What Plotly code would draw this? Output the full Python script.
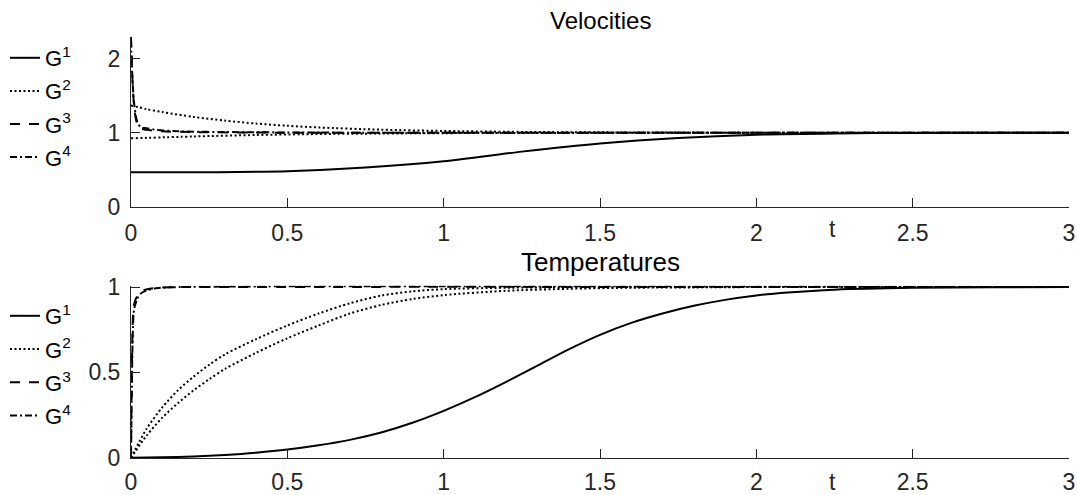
import plotly.graph_objects as go

# ---- Velocities ----
t_v1 = [0, 0.25, 0.5, 0.75, 1.0, 1.25, 1.5, 1.75, 2.0, 2.25, 2.5, 2.75, 3.0]
v_g1 = [0.465, 0.467, 0.48, 0.53, 0.615, 0.745, 0.855, 0.93, 0.975, 0.992, 0.998, 1.0, 1.0]

t_v2a = [0, 0.05, 0.1, 0.2, 0.3, 0.4, 0.5, 0.6, 0.8, 1.0, 1.25, 1.5, 2.0, 3.0]
v_g2a = [1.37, 1.32, 1.28, 1.215, 1.165, 1.125, 1.095, 1.072, 1.042, 1.025, 1.012, 1.006, 1.001, 1.0]
t_v2b = [0, 0.2, 0.4, 0.6, 0.8, 1.0, 1.5, 2.0, 3.0]
v_g2b = [0.925, 0.95, 0.97, 0.983, 0.99, 0.995, 0.999, 1.0, 1.0]

t_v3 = [0, 0.003, 0.006, 0.01, 0.015, 0.02, 0.03, 0.05, 0.1, 0.2, 0.4, 1.0, 3.0]
v_g3 = [2.3, 1.9, 1.6, 1.35, 1.2, 1.12, 1.06, 1.04, 1.02, 1.01, 1.003, 1.0, 1.0]
t_v4 = [0, 0.005, 0.01, 0.02, 0.03, 0.05, 0.08, 0.15, 0.3, 0.6, 1.0, 3.0]
v_g4 = [2.25, 1.7, 1.4, 1.15, 1.08, 1.06, 1.04, 1.02, 1.01, 1.003, 1.0, 1.0]

# ---- Temperatures ----
t_T1 = [0, 0.1, 0.2, 0.3, 0.4, 0.5, 0.6, 0.7, 0.8, 0.9, 1.0, 1.1, 1.2, 1.3, 1.4,
        1.5, 1.6, 1.7, 1.8, 1.9, 2.0, 2.1, 2.25, 2.5, 2.75, 3.0]
T_g1 = [0, 0.003, 0.008, 0.017, 0.03, 0.048, 0.073, 0.105, 0.148, 0.205, 0.275, 0.355,
        0.445, 0.54, 0.635, 0.72, 0.79, 0.845, 0.89, 0.925, 0.951, 0.968, 0.985, 0.996,
        0.999, 1.0]

t_T2a = [0, 0.05, 0.1, 0.15, 0.2, 0.25, 0.3, 0.4, 0.5, 0.6, 0.7, 0.8, 0.9, 1.0, 1.2,
         1.4, 1.7, 2.0, 3.0]
T_g2a = [0, 0.17, 0.295, 0.395, 0.475, 0.545, 0.605, 0.695, 0.775, 0.845, 0.905, 0.95,
         0.975, 0.988, 0.996, 0.999, 1.0, 1.0, 1.0]
t_T2b = [0, 0.05, 0.1, 0.15, 0.2, 0.25, 0.3, 0.4, 0.5, 0.6, 0.7, 0.8, 0.9, 1.0, 1.2,
         1.4, 1.6, 1.8, 2.0, 3.0]
T_g2b = [0, 0.13, 0.235, 0.32, 0.395, 0.46, 0.52, 0.615, 0.7, 0.775, 0.845, 0.895, 0.93,
         0.953, 0.978, 0.99, 0.996, 0.998, 1.0, 1.0]

t_T3 = [0, 0.002, 0.005, 0.008, 0.015, 0.025, 0.04, 0.06, 0.1, 0.2, 3.0]
T_g3 = [0, 0.4, 0.75, 0.88, 0.93, 0.96, 0.98, 0.99, 0.998, 1.0, 1.0]
t_T4 = [0, 0.003, 0.006, 0.01, 0.02, 0.03, 0.05, 0.08, 0.15, 3.0]
T_g4 = [0, 0.45, 0.75, 0.87, 0.93, 0.96, 0.98, 0.993, 1.0, 1.0]

x_ticks = [0, 0.5, 1, 1.5, 2, 2.5, 3]
names = ["G<sup>1</sup>", "G<sup>2</sup>", "G<sup>3</sup>", "G<sup>4</sup>"]

FONT = "Liberation Sans, Arial, Helvetica, sans-serif"
AX = "#262626"
W = 2
styles = ["solid", "2px,2.5px", "10px,9px", "7px,3px,2px,3px"]

fig = go.Figure()


def add(x, y, i, xa, ya, leg, show=True):
    fig.add_trace(go.Scatter(
        x=x, y=y, mode="lines", name=names[i], showlegend=show,
        legend=leg, legendgroup=leg + str(i),
        line=dict(color="black", width=W, dash=styles[i], shape="spline", smoothing=0.8),
        xaxis=xa, yaxis=ya))


add(t_v1, v_g1, 0, "x", "y", "legend")
add(t_v2a, v_g2a, 1, "x", "y", "legend")
add(t_v2b, v_g2b, 1, "x", "y", "legend", show=False)
add(t_v3, v_g3, 2, "x", "y", "legend")
add(t_v4, v_g4, 3, "x", "y", "legend")

add(t_T1, T_g1, 0, "x2", "y2", "legend2")
add(t_T2a, T_g2a, 1, "x2", "y2", "legend2")
add(t_T2b, T_g2b, 1, "x2", "y2", "legend2", show=False)
add(t_T3, T_g3, 2, "x2", "y2", "legend2")
add(t_T4, T_g4, 3, "x2", "y2", "legend2")

xdom = [131 / 1077, 1069 / 1077]
axis_common = dict(showline=True, linecolor=AX, linewidth=1, ticks="inside", ticklen=9,
                   tickcolor=AX, showgrid=False, zeroline=False, automargin=False,
                   tickfont=dict(family=FONT, size=23, color=AX))

fig.update_layout(
    width=1077, height=495, margin=dict(l=0, r=0, t=0, b=0, autoexpand=False),
    plot_bgcolor="white", paper_bgcolor="white",
    xaxis=dict(domain=xdom, range=[0, 3], tickvals=x_ticks, anchor="y",
               ticklabelstandoff=6, **axis_common),
    yaxis=dict(domain=[1 - 206.7 / 495, 1 - 36.7 / 495], range=[0, 2.3], tickvals=[0, 1, 2],
               anchor="x", ticklabelstandoff=5, **axis_common),
    xaxis2=dict(domain=xdom, range=[0, 3], tickvals=x_ticks, anchor="y2",
                ticklabelstandoff=3, **axis_common),
    yaxis2=dict(domain=[1 - 458.3 / 495, 1 - 285.7 / 495], range=[-0.003, 1.008],
                tickvals=[0, 0.5, 1], ticktext=["0", "0.5", "1"], anchor="x2",
                ticklabelstandoff=5, **axis_common),
    legend=dict(x=5 / 1077, y=1 - 37 / 495, xanchor="left", yanchor="top",
                font=dict(family=FONT, size=22, color="black"), bgcolor="rgba(0,0,0,0)",
                tracegroupgap=1.5, itemwidth=30),
    legend2=dict(x=5 / 1077, y=1 - 295 / 495, xanchor="left", yanchor="top",
                 font=dict(family=FONT, size=22, color="black"), bgcolor="rgba(0,0,0,0)",
                 tracegroupgap=1.6, itemwidth=30),
    showlegend=True,
)

fig.add_annotation(text="Velocities", xref="x domain", yref="paper", x=0.5, y=1 - 20 / 495,
                   xanchor="center", yanchor="middle", showarrow=False,
                   font=dict(family=FONT, size=24, color="black"))
fig.add_annotation(text="Temperatures", xref="x2 domain", yref="paper", x=0.5, y=1 - 262 / 495,
                   xanchor="center", yanchor="middle", showarrow=False,
                   font=dict(family=FONT, size=26, color="black"))
fig.add_annotation(text="t", xref="x", yref="paper", x=2.245, y=1 - 229 / 495,
                   xanchor="center", yanchor="middle", showarrow=False,
                   font=dict(family=FONT, size=23, color=AX))
fig.add_annotation(text="t", xref="x2", yref="paper", x=2.245, y=1 - 482 / 495,
                   xanchor="center", yanchor="middle", showarrow=False,
                   font=dict(family=FONT, size=23, color=AX))

fig.write_html("out.html")
